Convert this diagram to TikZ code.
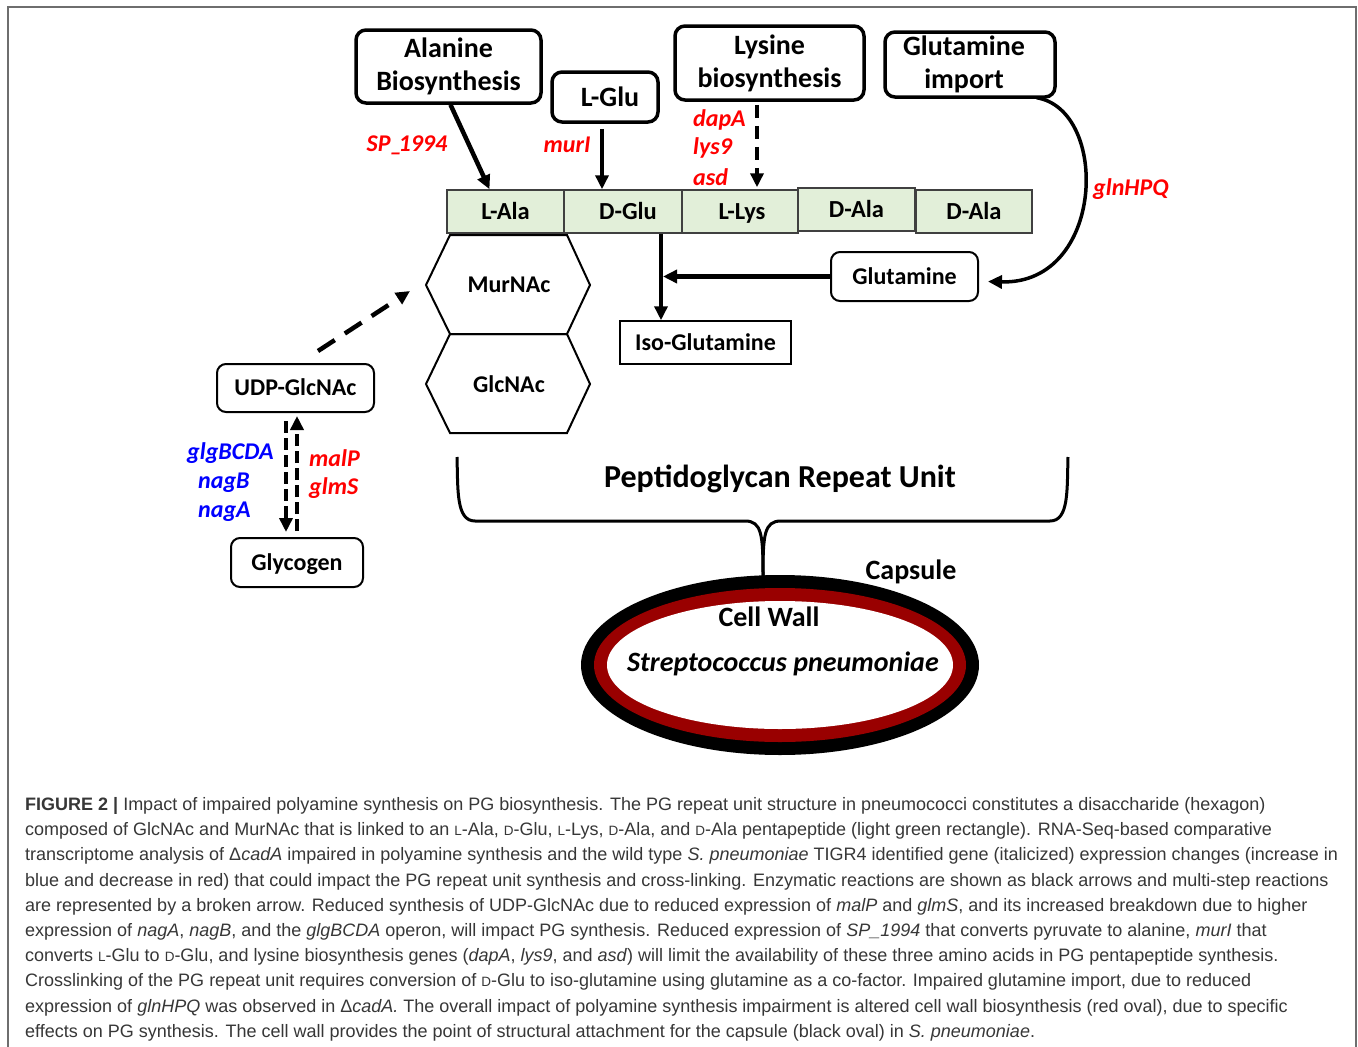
\documentclass[tikz,border=0pt]{standalone}
\usepackage{fontspec}
\setmainfont{Carlito}
\newfontfamily\capfont{Liberation Sans}
\usetikzlibrary{arrows.meta,calc}
\definecolor{pgreen}{HTML}{E2EFD9}
\definecolor{wallred}{RGB}{153,0,0}
\definecolor{genered}{RGB}{255,0,0}
\definecolor{geneblue}{RGB}{0,0,255}
\definecolor{framegray}{RGB}{110,110,110}
\definecolor{captext}{RGB}{55,55,55}
\newcommand\sck[1]{{\fontsize{13.5}{13.5}\selectfont #1}}
\begin{document}
\begin{tikzpicture}[x=1pt,y=-1pt,
  thickbox/.style={draw, line width=3.5pt, rounded corners=10pt, inner sep=0pt, align=center, font=\fontsize{28}{33}\selectfont\bfseries},
  thinbox/.style={draw, line width=2pt, rounded corners=9pt, inner sep=0pt, text height=19pt, text depth=4pt, font=\fontsize{24}{28}\selectfont\bfseries},
  pep/.style={draw=black!75, line width=1.5pt, fill=pgreen, minimum width=117pt, minimum height=43pt, inner sep=0pt, text height=19.5pt, text depth=4pt, font=\fontsize{24.5}{28}\selectfont\bfseries},
  gene/.style={font=\fontsize{24}{28}\selectfont\bfseries\itshape, text=genered, inner sep=0pt},
  bgene/.style={gene, text=geneblue},
  lbl/.style={inner sep=0pt, text height=19pt, text depth=4pt, font=\fontsize{24}{28}\selectfont\bfseries},
  arr/.style={line width=4.5pt, -{Triangle[length=14pt,width=13pt]}},
  hexline/.style={line width=2pt},
  capline/.style={anchor=base west, inner sep=0pt, font=\capfont\fontsize{18}{18}\selectfont, text=captext}
]
\useasboundingbox (0,0) rectangle (1358,1047);
\fill[white] (0,0) rectangle (1358,1047);
\draw[framegray, line width=2pt] (8,1060) -- (8,7) -- (1356,7) -- (1356,1060);

% top boxes
\node[thickbox, minimum width=185pt, minimum height=73pt] (ala) at (448.5,66.5) {\raisebox{-2pt}{Alanine}\\\raisebox{-2pt}{Biosynthesis}};
\node[thickbox, minimum width=106pt, minimum height=50pt] (lglu) at (605,97) {\hspace*{10pt}L-Glu};
\node[thickbox, minimum width=189pt, minimum height=74pt] (lys) at (769.5,63) {\raisebox{-3pt}{Lysine}\\\raisebox{-3pt}{biosynthesis}};
\node[thickbox, minimum width=170pt, minimum height=65pt] (gimp) at (970,64.5) {\raisebox{-3pt}{Glutamine}\hspace*{12pt}\\\raisebox{-3pt}{import}\hspace*{12pt}};

% peptide
\node[pep] (pala) at (505.5,211.5) {L-Ala};
\node[pep, minimum width=118pt] (pglu) at (623,211.5) {\hspace*{10pt}D-Glu};
\node[pep, minimum width=116pt] (plys) at (740,211.5) {\hspace*{4pt}L-Lys};
\node[pep] (pdala) at (856.5,209.5) {D-Ala};
\node[pep, minimum width=116pt] (pdala2) at (974,211.5) {D-Ala};

% hexagons
\draw[hexline] (450,235) -- (567,235) -- (590,285) -- (567,334) -- (450,334) -- (426,285) -- cycle;
\draw[hexline] (450,334) -- (567,334) -- (590,384) -- (567,433) -- (450,433) -- (426,384) -- cycle;
\coordinate (murL) at (426,285);
\node[lbl] (mur) at (509,285) {MurNAc};
\node[lbl] (glc) at (509,385) {GlcNAc};

% other boxes
\node[thinbox, minimum width=157pt, minimum height=48pt] (udp) at (295.5,388) {UDP-GlcNAc};
\node[thinbox, minimum width=132pt, minimum height=49pt] (glyc) at (297,562.5) {Glycogen};
\node[thinbox, minimum width=147pt, minimum height=49pt] (glut) at (904.5,276.5) {Glutamine};
\node[draw, line width=1.5pt, inner sep=0pt, minimum width=171pt, minimum height=43pt, text height=19pt, text depth=4pt, font=\fontsize{24}{28}\selectfont\bfseries] (iso) at (705.5,342.5) {Iso-Glutamine};

% arrows
\draw[arr] ([xshift=2pt]ala.south) -- ([xshift=-16pt]pala.north);
\draw[arr] ([xshift=-3pt,yshift=-5pt]lglu.south) -- ([xshift=-21pt]pglu.north);
\draw[arr, dash pattern=on 13pt off 8pt] ([xshift=-12.5pt,yshift=-3pt]lys.south) -- ([xshift=17pt,yshift=2pt]plys.north);
\draw[arr] ([xshift=38pt]pglu.south) -- ([xshift=-44.5pt]iso.north);
\draw[arr] (glut.west) -- ([xshift=40pt]pglu.south |- glut.west);
\draw[line width=3.5pt, -{Triangle[length=14pt,width=13pt]}] ([xshift=-20pt,yshift=1pt]gimp.south east) .. controls (1110,110) and (1105,285) .. ([xshift=9pt,yshift=-5pt]glut.east);
\draw[arr, dash pattern=on 20pt off 12pt] ([xshift=22.5pt,yshift=12pt]udp.north) -- ([xshift=-16pt,yshift=-6pt]murL);
\draw[arr, dash pattern=on 12pt off 5pt] ([xshift=-9.5pt,yshift=-8pt]udp.south) -- ([xshift=-11pt,yshift=5pt]glyc.north);
\draw[arr, dash pattern=on 12pt off 5pt] ([yshift=6pt]glyc.north) -- ([xshift=1.5pt,yshift=-3pt]udp.south);

% gene labels
\node[gene] (sp) at (407,145) {SP\_\kern-4pt1994};
\node[gene] (muri) at (567,145) {murI};
\node[gene, anchor=west] (dapa) at (693,120) {dapA};
\node[gene, anchor=west] (lys9) at (693,148) {lys9};
\node[gene, anchor=west] (asd) at (693,177) {asd};
\node[gene, anchor=west] (gln) at (1093,189) {glnHPQ};
\node[bgene, anchor=west] (glg) at (187,453) {glgBCDA};
\node[bgene, anchor=west] (nagb) at (198,483) {nagB};
\node[bgene, anchor=west] (naga) at (198,512) {nagA};
\node[gene, anchor=west] (malp) at (309,458) {malP};
\node[gene, anchor=west] (glms) at (309,488) {glmS};

% brace
\draw[line width=3pt] (457,457) .. controls (458,490) and (456,521) .. (475,521) -- (745,521) .. controls (762,521) and (763,535) .. (763,577);
\draw[line width=3pt] (1068,457) .. controls (1067,490) and (1069,521) .. (1050,521) -- (781,521) .. controls (764,521) and (763,535) .. (763,577);
\node[font=\fontsize{32}{36}\selectfont\bfseries, inner sep=0pt] (pru) at (780,479) {Peptidoglycan Repeat Unit};

% cell
\fill[black] (780,665) ellipse [x radius=199pt, y radius=90pt];
\fill[wallred] (780,665) ellipse [x radius=186pt, y radius=77pt];
\fill[white] (780,665) ellipse [x radius=173pt, y radius=64pt];
\node[font=\fontsize{28}{32}\selectfont\bfseries, inner sep=0pt] (caps) at (911,572) {Capsule};
\node[font=\fontsize{28}{32}\selectfont\bfseries, inner sep=0pt] (cw) at (769,617) {Cell Wall};
\node[font=\fontsize{28}{32}\selectfont\bfseries\itshape, inner sep=0pt] (spn) at (783,664) {Streptococcus pneumoniae};

% caption
\node[capline] (c1) at (25,810.5) {\textbf{FIGURE 2 |} Impact of impaired polyamine synthesis on PG biosynthesis. The PG repeat unit structure in pneumococci constitutes a disaccharide (hexagon)};
\node[capline] (c2) at (25,835.7) {composed of GlcNAc and MurNAc that is linked to an \sck{L}-Ala, \sck{D}-Glu, \sck{L}-Lys, \sck{D}-Ala, and \sck{D}-Ala pentapeptide (light green rectangle). RNA-Seq-based comparative};
\node[capline] (c3) at (25,860.9) {transcriptome analysis of Δ\textit{cadA} impaired in polyamine synthesis and the wild type \textit{S. pneumoniae} TIGR4 identified gene (italicized) expression changes (increase in};
\node[capline] (c4) at (25,886.1) {blue and decrease in red) that could impact the PG repeat unit synthesis and cross-linking. Enzymatic reactions are shown as black arrows and multi-step reactions};
\node[capline] (c5) at (25,911.3) {are represented by a broken arrow. Reduced synthesis of UDP-GlcNAc due to reduced expression of \textit{malP} and \textit{glmS}, and its increased breakdown due to higher};
\node[capline] (c6) at (25,936.5) {expression of \textit{nagA}, \textit{nagB}, and the \textit{glgBCDA} operon, will impact PG synthesis. Reduced expression of \textit{SP\_1994} that converts pyruvate to alanine, \textit{murI} that};
\node[capline] (c7) at (25,961.7) {converts \sck{L}-Glu to \sck{D}-Glu, and lysine biosynthesis genes (\textit{dapA}, \textit{lys9}, and \textit{asd}) will limit the availability of these three amino acids in PG pentapeptide synthesis.};
\node[capline] (c8) at (25,986.9) {Crosslinking of the PG repeat unit requires conversion of \sck{D}-Glu to iso-glutamine using glutamine as a co-factor. Impaired glutamine import, due to reduced};
\node[capline] (c9) at (25,1012.1) {expression of \textit{glnHPQ} was observed in Δ\textit{cadA.} The overall impact of polyamine synthesis impairment is altered cell wall biosynthesis (red oval), due to specific};
\node[capline] (c10) at (25,1037.3) {effects on PG synthesis. The cell wall provides the point of structural attachment for the capsule (black oval) in \textit{S. pneumoniae}.};
\end{tikzpicture}
\end{document}
